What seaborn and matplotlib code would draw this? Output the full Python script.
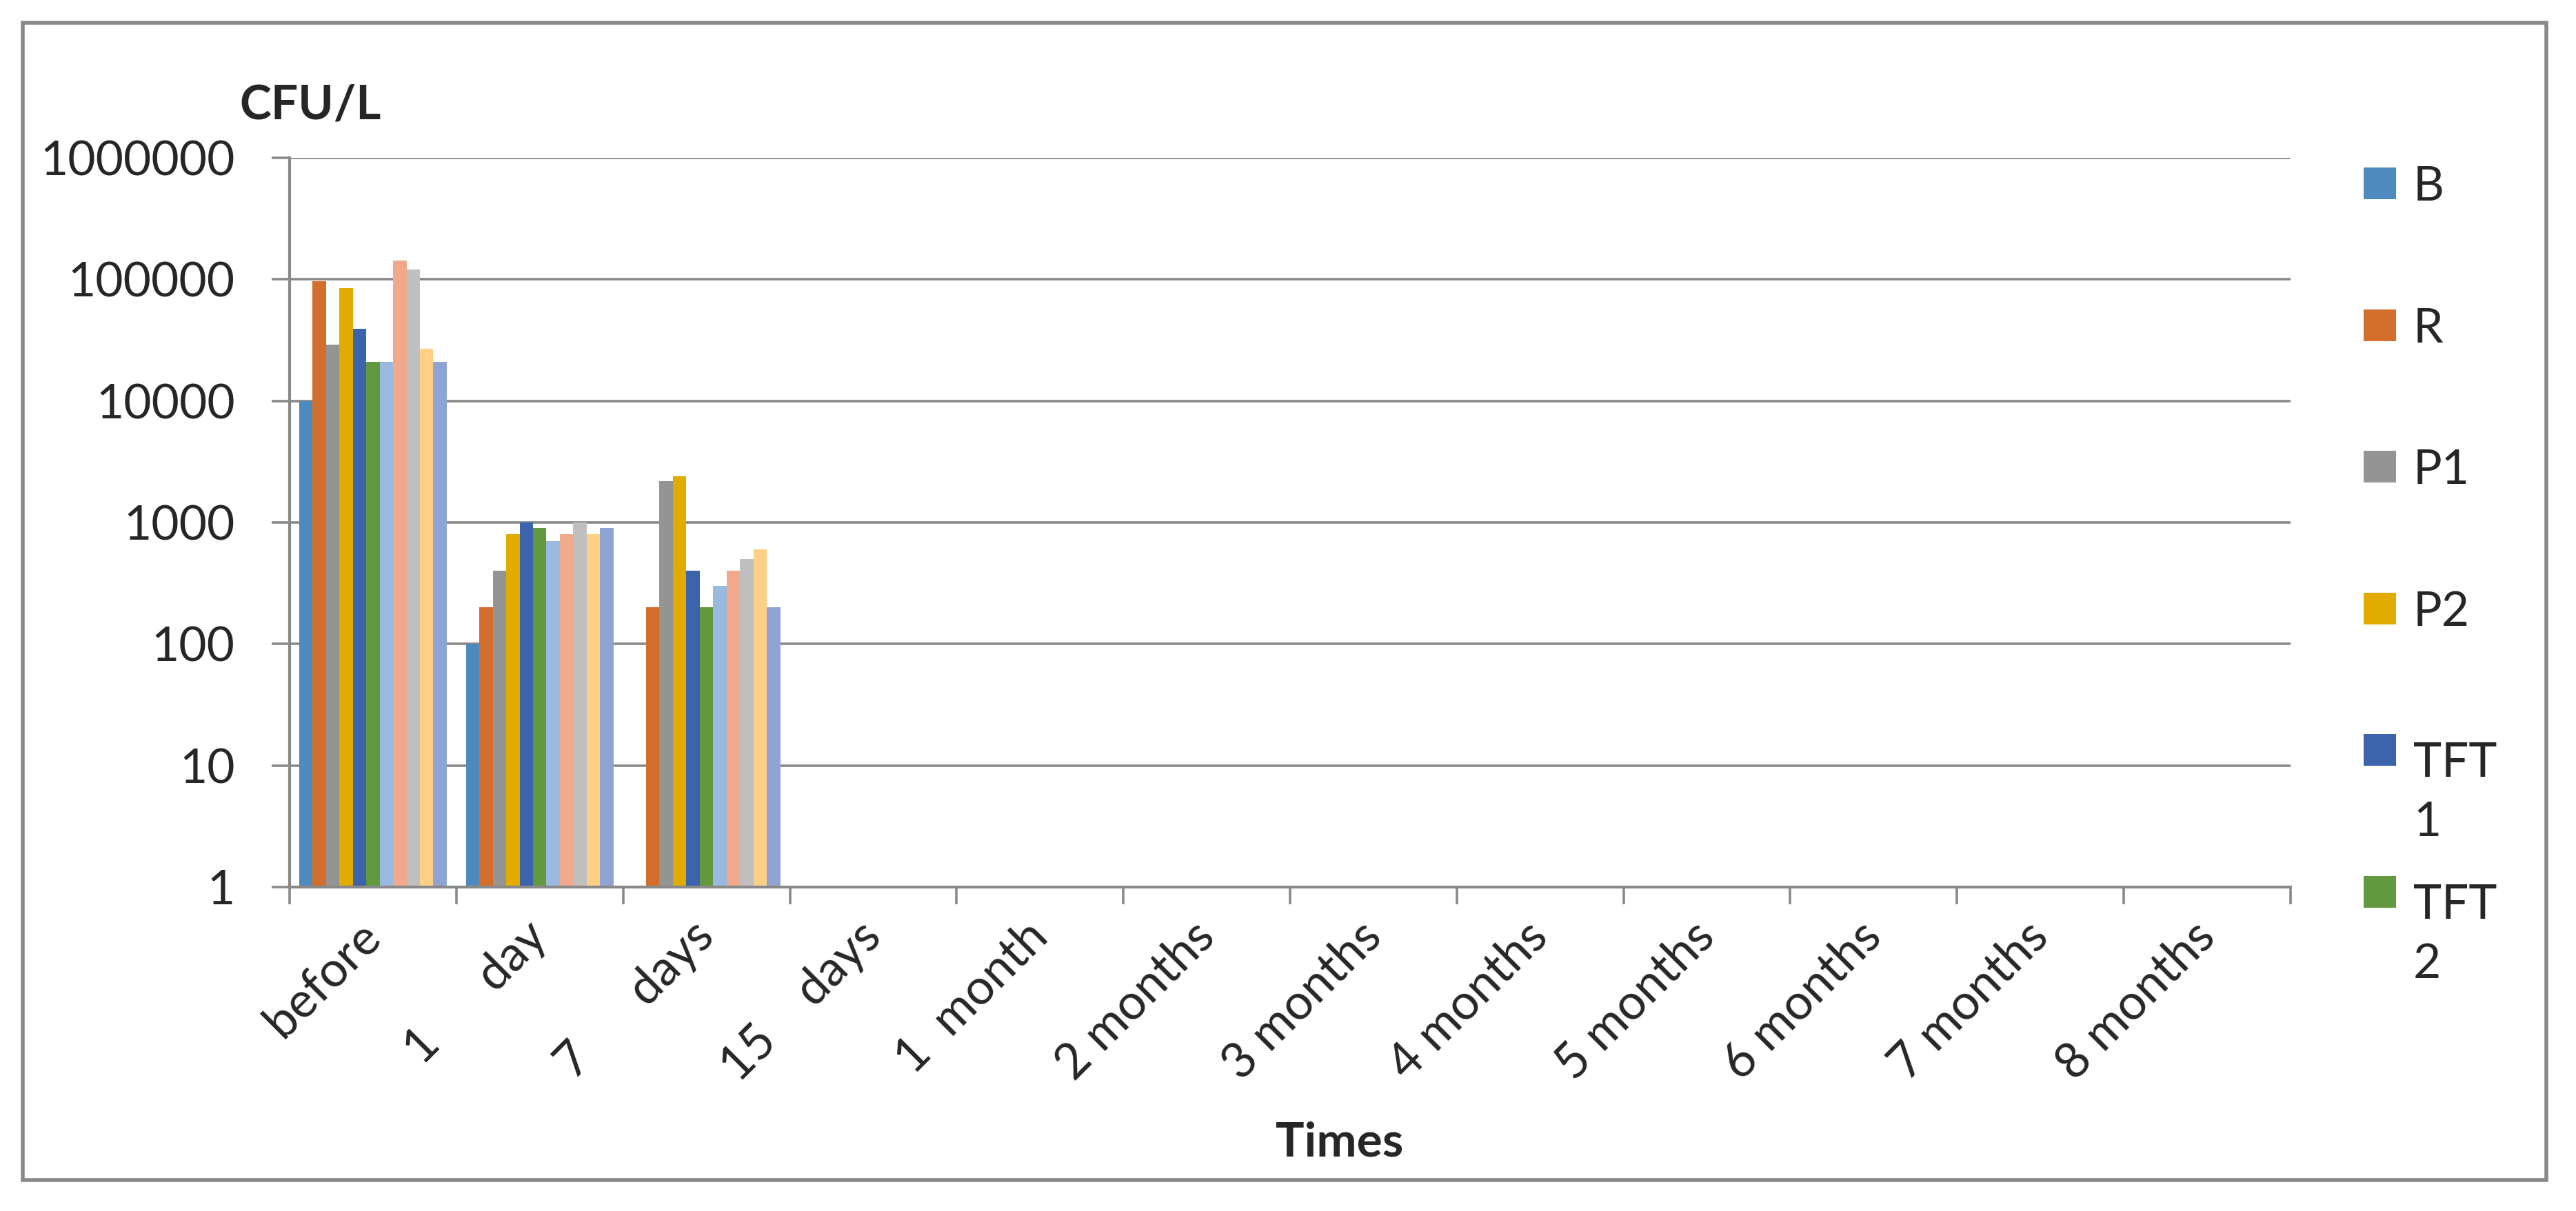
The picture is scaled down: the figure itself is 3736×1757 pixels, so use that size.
import numpy as np
import pandas as pd
import matplotlib
matplotlib.use("Agg")
import matplotlib.pyplot as plt
from matplotlib.patches import Rectangle
from matplotlib.ticker import FixedLocator, FuncFormatter, NullLocator
import seaborn as sns

# sampling times (x categories)
times = ["before", "1      day", "7      days", "15    days", "1  month",
         "2 months", "3 months", "4 months", "5 months", "6 months",
         "7 months", "8 months"]

# series shown in the (truncated) legend come first
series = ["B", "R", "P1", "P2", "TFT 1", "TFT 2",
          "TFT 3", "TFT 4", "TFT 5", "TFT 6", "TFT 7"]
colors = ["#4F8ABE", "#D36E2C", "#949494", "#E2AB00", "#3B64AD", "#62993E",
          "#99B9DF", "#F0A98A", "#BFBFBF", "#FDD086", "#90A4D4"]

nan = np.nan
B    = [10000,  100, nan, nan, nan, nan, nan, nan, nan, nan, nan, nan]
R    = [96000,  200, 200, nan, nan, nan, nan, nan, nan, nan, nan, nan]
P1   = [29000,  400, 2200, nan, nan, nan, nan, nan, nan, nan, nan, nan]
P2   = [85000,  800, 2400, nan, nan, nan, nan, nan, nan, nan, nan, nan]
TFT1 = [39000, 1000, 400, nan, nan, nan, nan, nan, nan, nan, nan, nan]
TFT2 = [21000,  900, 200, nan, nan, nan, nan, nan, nan, nan, nan, nan]
TFT3 = [21000,  700, 300, nan, nan, nan, nan, nan, nan, nan, nan, nan]
TFT4 = [142000, 800, 400, nan, nan, nan, nan, nan, nan, nan, nan, nan]
TFT5 = [121000, 1000, 500, nan, nan, nan, nan, nan, nan, nan, nan, nan]
TFT6 = [27000,  800, 600, nan, nan, nan, nan, nan, nan, nan, nan, nan]
TFT7 = [21000,  900, 200, nan, nan, nan, nan, nan, nan, nan, nan, nan]

values = [B, R, P1, P2, TFT1, TFT2, TFT3, TFT4, TFT5, TFT6, TFT7]

rows = []
for name, vals in zip(series, values):
    for t, v in zip(times, vals):
        rows.append({"time": t, "series": name, "cfu": v})
df = pd.DataFrame(rows).dropna()

sns.set_style("white")
plt.rcParams["font.family"] = ["Lato", "DejaVu Sans"]

W, H = 3737, 1757
DPI = 200
fig = plt.figure(figsize=(W / DPI, H / DPI), dpi=DPI)
ax = fig.add_axes([420 / W, 1 - 1287 / H, (3322 - 420) / W, (1287 - 229) / H])

sns.barplot(data=df, x="time", y="cfu", hue="series", order=times,
            hue_order=series, palette=colors, width=0.885, errorbar=None,
            saturation=1, legend=False, linewidth=0, ax=ax)

grey = "#898989"
ax.set_yscale("log")
ax.set_ylim(1, 1e6)
ax.set_xlim(-0.5, len(times) - 0.5)
ax.yaxis.set_major_locator(FixedLocator([10 ** k for k in range(7)]))
ax.yaxis.set_minor_locator(NullLocator())
ax.yaxis.set_major_formatter(FuncFormatter(lambda v, p: f"{int(round(v))}"))
ax.grid(axis="y", color=grey, lw=1.3)
ax.set_axisbelow(True)

ax.set_xlabel("")
ax.set_ylabel("")
for s in ["top", "right"]:
    ax.spines[s].set_visible(False)
for s in ["left", "bottom"]:
    ax.spines[s].set_color(grey)
    ax.spines[s].set_linewidth(1.5)

ax.tick_params(axis="y", which="major", length=9.5, width=1.3, color=grey,
               labelsize=25, pad=19, direction="out", left=True)
ax.xaxis.set_minor_locator(FixedLocator(np.arange(-0.5, len(times), 1.0)))
ax.tick_params(axis="x", which="minor", length=9, width=1.3, color=grey,
               direction="out", bottom=True)
ax.tick_params(axis="x", which="major", length=0, labelsize=25.5, pad=22)
for lbl in ax.get_xticklabels():
    lbl.set_rotation(45)
    lbl.set_ha("right")
    lbl.set_va("center")
    lbl.set_rotation_mode("anchor")

fig.text(347 / W, 1 - 173 / H, "CFU/L", fontsize=25, fontweight="bold",
         ha="left", va="baseline")
fig.text(1943 / W, 1 - 1678 / H, "Times", fontsize=25, fontweight="bold",
         ha="center", va="baseline")

# legend as drawn in the source (only the first six entries fit)
for i, (name, c) in enumerate(zip(series[:6], colors[:6])):
    cy = 266 + i * 205.6
    fig.add_artist(Rectangle((3428 / W, 1 - (cy + 23) / H), 47 / W, 46 / H,
                             transform=fig.transFigure, color=c, lw=0))
    label = name.replace(" ", "\n")
    extra = 100 * label.count("\n")
    fig.text(3500 / W, 1 - (cy + 25 + extra) / H, label,
             fontsize=25, ha="left", va="baseline", linespacing=1.45)

fig.add_artist(Rectangle((33 / W, 1 - 1712 / H), (3693 - 33) / W,
                         (1712 - 33) / H, transform=fig.transFigure,
                         fill=False, edgecolor=grey, lw=2))

fig.savefig("out.png", dpi=DPI)
